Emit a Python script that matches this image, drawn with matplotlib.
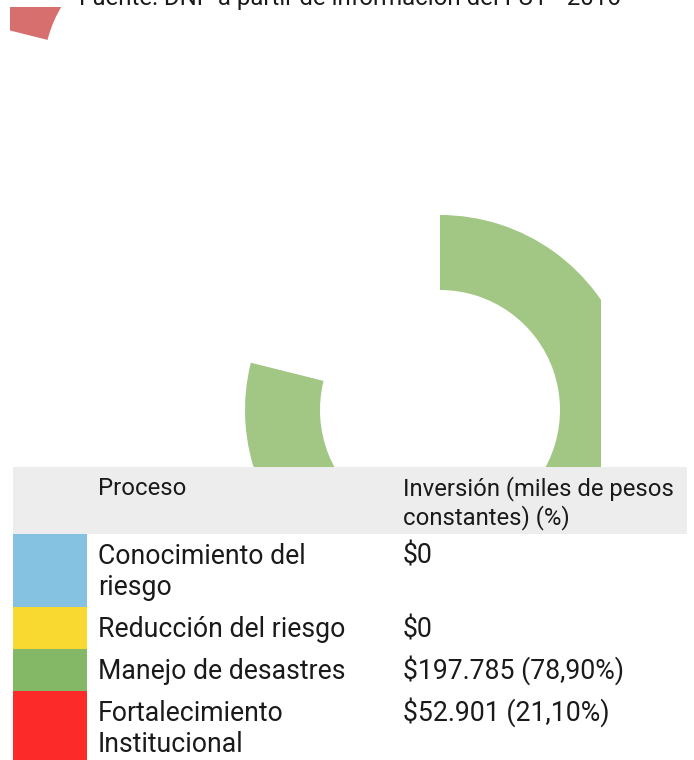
import matplotlib.pyplot as plt
from matplotlib.patches import Rectangle

plt.rcParams['font.family'] = ['Roboto', 'DejaVu Sans']

# Data
procesos = [['Conocimiento del', 'riesgo'], ['Reducción del riesgo'],
            ['Manejo de desastres'], ['Fortalecimiento', 'Institucional']]
inversion = [0, 0, 197785, 52901]
etiquetas = ['$0', '$0', '$197.785 (78,90%)', '$52.901 (21,10%)']
colores_tabla = ['#85C1E1', '#F9D92F', '#85B866', '#FD2A2A']
colores_dona = ['#85C1E1', '#F9D92F', '#A2C785', '#D86F6F']
encabezado = [['Proceso'], ['Inversión (miles de pesos', 'constantes) (%)']]
fuente = 'Fuente: DNP a partir de información del FUT - 2016'

W, H = 694, 760
fig = plt.figure(figsize=(W / 100, H / 100), dpi=100)


def px_axes(x0, y0, x1, y1):
    # axes given in pixel coords (y downwards)
    return fig.add_axes([x0 / W, (H - y1) / H, (x1 - x0) / W, (y1 - y0) / H])


def donut(ax, center, clip, visible):
    cx, cy = center
    wedges, _ = ax.pie(inversion, colors=colores_dona, startangle=90, counterclock=False,
                       radius=1, wedgeprops=dict(width=(r_out - r_in) / r_out, linewidth=0))
    for k, w in enumerate(wedges):
        w.set_visible(k in visible)
        w.set_clip_on(True)
        w.set_clip_path(ax.patch)
    ax.set_aspect('auto')
    ax.set_xlim((clip[0] - cx) / r_out, (clip[2] - cx) / r_out)
    ax.set_ylim((cy - clip[3]) / r_out, (cy - clip[1]) / r_out)
    ax.axis('off')


r_out, r_in = 195, 120

# donut, clipped by the table and on the right side
clip = (245, 215, 601, 467)
donut(px_axes(*clip), (440, 410), clip, [0, 1, 2])

# stray red slice at the top left
clip2 = (10, 7, 200, 120)
donut(px_axes(*clip2), (164, 69), clip2, [3])

# table and text, in pixel coords
base = fig.add_axes([0, 0, 1, 1], zorder=-1)
base.set_xlim(0, W)
base.set_ylim(H, 0)
base.axis('off')

base.text(350, 5, fuente, ha='center', va='baseline', fontsize=17.3, color='#1a1a1a')

tx0, tx1, sw = 13, 687, 87
col1, col2 = 98, 403
head_top, head_bot = 467, 534
row_h = [73, 42, 42, 69]

base.add_patch(Rectangle((tx0, head_top), tx1 - tx0, head_bot - head_top,
                         facecolor='#EDEDED', edgecolor='none'))
for col, lines in zip([col1, col2], encabezado):
    for j, ln in enumerate(lines):
        base.text(col, head_top + 28 + j * 29, ln, fontsize=17.2, va='baseline',
                  color='#1a1a1a', parse_math=False)

y = head_bot
for i in range(len(procesos)):
    base.add_patch(Rectangle((tx0, y), sw - tx0, row_h[i],
                             facecolor=colores_tabla[i], edgecolor='none'))
    for j, ln in enumerate(procesos[i]):
        base.text(col1, y + 30 + j * 31, ln, fontsize=19.2, va='baseline',
                  color='#1a1a1a', parse_math=False)
    base.text(col2, y + 30, etiquetas[i], fontsize=19.2, va='baseline',
              color='#1a1a1a', parse_math=False)
    y += row_h[i]

fig.savefig('out.png', dpi=100)
